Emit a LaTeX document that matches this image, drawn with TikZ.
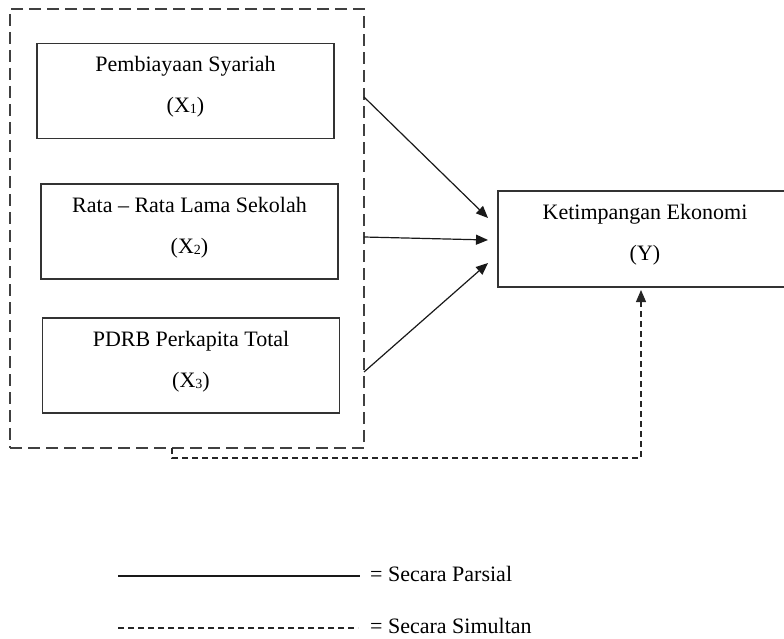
\documentclass[tikz,border=0pt]{standalone}
\usepackage{fontspec}
\setmainfont{Liberation Serif}
\usepackage{tikz}
\usepackage{xcolor}
\usetikzlibrary{arrows.meta,positioning}

\newcommand{\idx}[1]{\raisebox{-1pt}{\fontsize{14}{14}\selectfont #1}}

\tikzset{
    varbox/.style={draw=black!80,line width=1.1pt,minimum width=297pt,minimum height=95pt,
        align=center,font=\fontsize{22}{41}\selectfont,inner sep=0pt,text depth=13pt},
    groupbox/.style={draw=black!75,line width=1.1pt,dash pattern=on 12pt off 6pt,
        minimum width=354pt,minimum height=439pt,inner sep=0pt},
    partial/.style={->,line width=1.2pt,black!90},
    simul/.style={->,line width=1.1pt,black!85,dash pattern=on 6pt off 4pt},
    legend/.style={font=\fontsize{22}{26}\selectfont,anchor=base west,inner sep=0pt}
}

\begin{document}
\begin{tikzpicture}[x=1pt,y=-1pt,>={Triangle[length=12pt,width=10pt]}]
    \useasboundingbox (0,0) rectangle (784,639);
    \clip (0,0) rectangle (784,639);
    \node[groupbox] (group) at (187,228.5) {};
    \node[varbox] (x1) at (185.5,91)  {Pembiayaan Syariah\\(X\idx{1})};
    \node[varbox] (x2) at (189.5,231.5) {Rata -- Rata Lama Sekolah\\(X\idx{2})};
    \node[varbox] (x3) at (191,365.5) {PDRB Perkapita Total\\(X\idx{3})};
    \node[varbox,minimum width=294pt,minimum height=96pt] (y) at (645,239) {Ketimpangan Ekonomi\\(Y)};
    % partial paths
    \coordinate (s1) at (364,97);
    \coordinate (s2) at (364,237);
    \coordinate (s3) at (364,372);
    \coordinate (t1) at (488,218);
    \coordinate (t2) at (488,240);
    \coordinate (t3) at (488,263);
    \draw[partial] (s1) -- (t1);
    \draw[partial] (s2) -- (t2);
    \draw[partial] (s3) -- (t3);
    % simultaneous path
    \coordinate (d0) at (172,448);
    \coordinate (ty) at (641,290);
    \draw[simul] (d0) -- (172,458) -| (ty);
    % legend
    \coordinate (l1) at (118,576);
    \coordinate (l1e) at (360,576);
    \coordinate (l2) at (118,628);
    \coordinate (l2e) at (358,628);
    \node[legend] (lp) at (370,581) {= Secara Parsial};
    \node[legend] (ls) at (370,633) {= Secara Simultan};
    \draw[line width=1.2pt,black!90] (l1) -- (l1e);
    \draw[line width=1.1pt,black!85,dash pattern=on 6pt off 4pt] (l2) -- (l2e);
\end{tikzpicture}
\end{document}
